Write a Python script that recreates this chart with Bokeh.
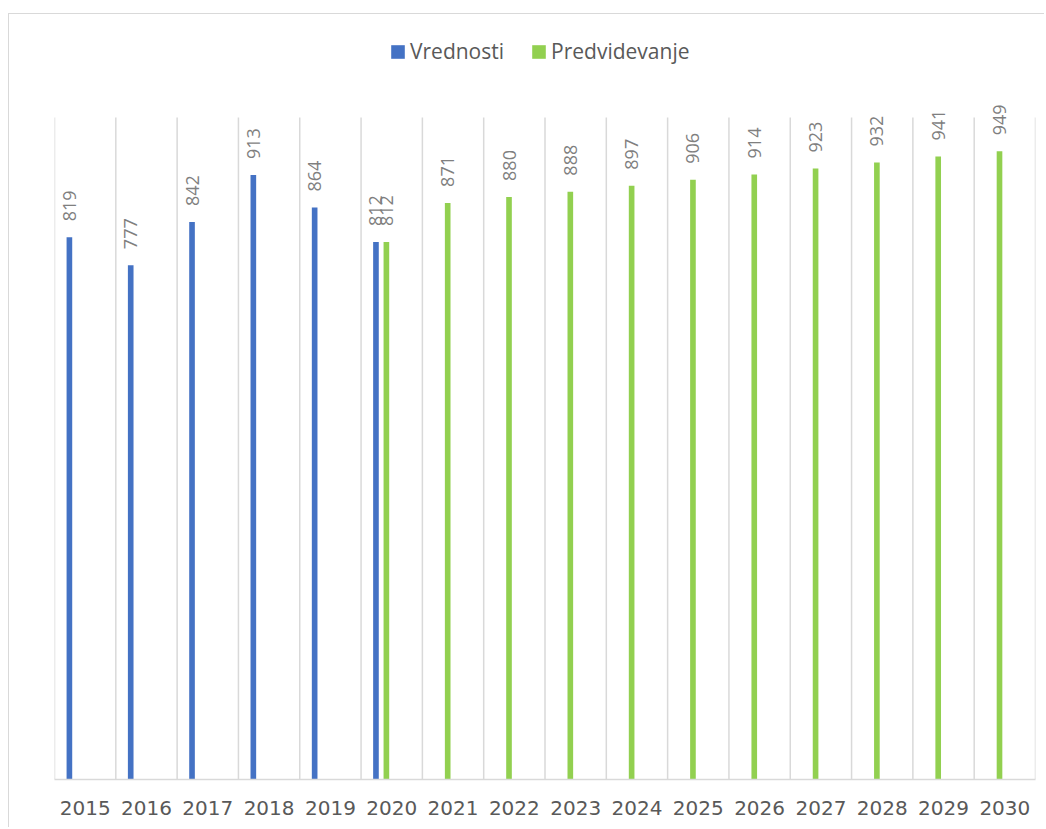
import math
from bokeh.plotting import figure
from bokeh.models import ColumnDataSource, Range1d, FixedTicker, Legend, LegendItem
from bokeh.core.properties import value
from bokeh.embed import file_html
from bokeh.resources import INLINE

# ---- data ----
years = [2015, 2016, 2017, 2018, 2019, 2020, 2021, 2022, 2023, 2024, 2025, 2026, 2027, 2028, 2029, 2030]
vred_years = [2015, 2016, 2017, 2018, 2019, 2020]
vrednosti = [819, 777, 842, 913, 864, 812]
pred_years = [2020, 2021, 2022, 2023, 2024, 2025, 2026, 2027, 2028, 2029, 2030]
predvidevanje = [812, 871, 880, 888, 897, 906, 914, 923, 932, 941, 949]

BLUE = "#4472c4"
GREEN = "#92d050"
BLUE_OFF = -0.257
GREEN_OFF = -0.087
BAR_W = 0.092
AXIS_MAX = 1000          # top of the value axis (where the grid lines stop)
Y_TOP = 1155.6           # headroom above the axis for the legend

def xs(ys, off):
    return [years.index(y) + 0.5 + off for y in ys]

src_v = ColumnDataSource(dict(x=xs(vred_years, BLUE_OFF), y=vrednosti, lab=[str(v) for v in vrednosti]))
src_p = ColumnDataSource(dict(x=xs(pred_years, GREEN_OFF), y=predvidevanje, lab=[str(v) for v in predvidevanje]))

p = figure(width=1036, height=814, x_range=Range1d(0, len(years)), y_range=Range1d(0, Y_TOP),
           output_backend="svg", toolbar_location=None,
           min_border_left=45, min_border_right=10, min_border_top=0, min_border_bottom=49)
p.styles = {"margin-left": "8px", "margin-top": "13px",
            "border-top": "1px solid #d9d9d9", "border-left": "1px solid #d9d9d9"}
p.outline_line_color = None
p.background_fill_color = "white"
p.border_fill_color = "white"
p.xgrid.visible = False
p.ygrid.visible = False

# category boundary grid lines
bounds = list(range(len(years) + 1))
p.segment(x0=bounds, y0=[0] * len(bounds), x1=bounds, y1=[AXIS_MAX] * len(bounds),
          line_color="#d9d9d9", line_width=1.5)

rv = p.vbar(x="x", top="y", width=BAR_W, source=src_v, fill_color=BLUE, line_color=None)
rp = p.vbar(x="x", top="y", width=BAR_W, source=src_p, fill_color=GREEN, line_color=None)

for s in (src_v, src_p):
    p.text(x="x", y="y", text="lab", source=s, angle=math.pi / 2, text_align="left",
           text_baseline="middle", y_offset=-16, text_font=value("Open Sans"),
           text_font_size="18px", text_color="#7f7f7f")

p.yaxis.visible = False

ax = p.xaxis[0]
ax.ticker = FixedTicker(ticks=[i + 0.5 for i in range(len(years))])
ax.major_label_overrides = {i + 0.5: str(y) for i, y in enumerate(years)}
ax.major_tick_line_color = None
ax.minor_tick_line_color = None
ax.axis_line_color = "#d9d9d9"
ax.axis_line_width = 1.5
ax.major_label_text_font = "DejaVu Sans"
ax.major_label_text_font_size = "20px"
ax.major_label_text_color = "#595959"
ax.major_label_standoff = 15

legend = Legend(items=[LegendItem(label="Vrednosti", renderers=[rv]),
                       LegendItem(label="Predvidevanje", renderers=[rp])],
                orientation="horizontal", location=(335, 714), padding=0, margin=0,
                border_line_color=None, background_fill_alpha=0,
                label_text_font="Open Sans", label_text_font_size="21px",
                label_text_color="#595959", glyph_width=17, glyph_height=17,
                label_standoff=4, spacing=26)
p.add_layout(legend)

open("out.html", "w").write(file_html(p, INLINE))
